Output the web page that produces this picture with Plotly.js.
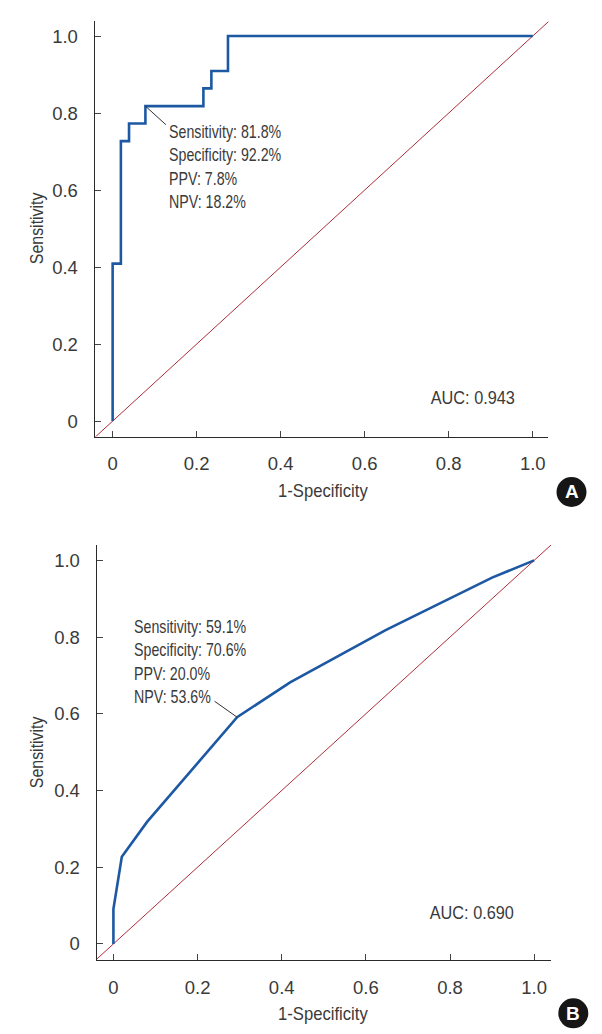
<!DOCTYPE html>
<html>
<head>
<meta charset="utf-8">
<script src="https://cdn.plot.ly/plotly-3.0.1.min.js"></script>
<style>html,body{margin:0;padding:0;background:#fff;}#chart{width:602px;height:1034px;}</style>
</head>
<body>
<div id="chart"></div>
<script>
// ---- Data ----
// Panel A ROC (step curve)
const rocA_fpr = [0, 0, 0.0196, 0.0196, 0.039, 0.039, 0.078, 0.078, 0.216, 0.216, 0.235, 0.235, 0.2745, 0.2745, 1.0];
const rocA_tpr = [0, 0.409, 0.409, 0.727, 0.727, 0.773, 0.773, 0.818, 0.818, 0.864, 0.864, 0.909, 0.909, 1.0, 1.0];
// Panel B ROC
const rocB_fpr = [0, 0, 0.02, 0.08, 0.294, 0.42, 0.647, 0.90, 1.0];
const rocB_tpr = [0, 0.091, 0.227, 0.318, 0.591, 0.682, 0.818, 0.955, 1.0];
// Reference diagonal
const diag = [-0.1, 1.1];
// Cut-off points
const cutA = {x: 0.078, y: 0.818};
const cutB = {x: 0.294, y: 0.591};
const statsA = ['Sensitivity: 81.8%', 'Specificity: 92.2%', 'PPV: 7.8%', 'NPV: 18.2%'];
const statsB = ['Sensitivity: 59.1%', 'Specificity: 70.6%', 'PPV: 20.0%', 'NPV: 53.6%'];
const aucA = 'AUC: 0.943';
const aucB = 'AUC: 0.690';
const tickVals = [0, 0.2, 0.4, 0.6, 0.8, 1.0];
const tickText = ['0', '0.2', '0.4', '0.6', '0.8', '1.0'];
const xTitle = '1-Specificity';
const yTitle = 'Sensitivity';
const panelLabels = ['A', 'B'];

// ---- Styles ----
const W = 602, H = 1034;
const BLUE = '#1d58a3';
const RED = '#ad2e38';
const TXT = '#3a3a3a';
const SANS = '"Liberation Sans", Arial, sans-serif';

const traces = [
  {x: diag, y: diag, xaxis: 'x', yaxis: 'y', mode: 'lines', line: {color: RED, width: 1}, hoverinfo: 'skip'},
  {x: rocA_fpr, y: rocA_tpr, xaxis: 'x', yaxis: 'y', mode: 'lines', line: {color: BLUE, width: 2.6}},
  {x: diag, y: diag, xaxis: 'x2', yaxis: 'y2', mode: 'lines', line: {color: RED, width: 1}, hoverinfo: 'skip'},
  {x: rocB_fpr, y: rocB_tpr, xaxis: 'x2', yaxis: 'y2', mode: 'lines', line: {color: BLUE, width: 2.6}}
];

function axis(extra) {
  return Object.assign({
    showgrid: false, zeroline: false, showline: true, linecolor: '#2a2a2a', linewidth: 1.4,
    ticks: 'inside', ticklen: 6, tickwidth: 1, tickcolor: '#444',
    tickvals: tickVals, ticktext: tickText,
    tickfont: {family: SANS, size: 18.5, color: TXT},
    fixedrange: true
  }, extra);
}

const px = v => v / W, py = v => 1 - v / H;

// annotations, with a horizontal condensing factor for each (to imitate the narrow typeface)
const annSpecs = [
  [{xref: 'x', yref: 'y', x: cutA.x, y: cutA.y, ax: 22, ay: 20, text: '', showarrow: true, arrowhead: 0, arrowwidth: 1, arrowcolor: '#333'}, 1, 'center'],
  [{xref: 'x', yref: 'y', x: cutA.x, y: cutA.y, xshift: 22, yshift: -14, xanchor: 'left', yanchor: 'top', align: 'left',
    text: statsA.join('<br>'), showarrow: false, font: {family: SANS, size: 18, color: TXT}}, 0.79, 'left'],
  [{xref: 'x2', yref: 'y2', x: cutB.x, y: cutB.y, ax: -24, ay: -17, text: '', showarrow: true, arrowhead: 0, arrowwidth: 1, arrowcolor: '#333'}, 1, 'center'],
  [{xref: 'x2', yref: 'y2', x: cutB.x, y: cutB.y, xshift: -105, yshift: 102, xanchor: 'left', yanchor: 'top', align: 'left',
    text: statsB.join('<br>'), showarrow: false, font: {family: SANS, size: 18, color: TXT}}, 0.79, 'left'],
  [{xref: 'x', yref: 'y', x: 0.857, y: 0.06, text: aucA, showarrow: false, xanchor: 'center', yanchor: 'middle', font: {family: SANS, size: 18.5, color: TXT}}, 0.88, 'center'],
  [{xref: 'x2', yref: 'y2', x: 0.852, y: 0.081, text: aucB, showarrow: false, xanchor: 'center', yanchor: 'middle', font: {family: SANS, size: 18.5, color: TXT}}, 0.88, 'center'],
  [{xref: 'paper', yref: 'paper', x: px(36), y: py(228), text: yTitle, textangle: -90, showarrow: false, xanchor: 'center', yanchor: 'middle', font: {family: SANS, size: 18.5, color: TXT}}, 0.86, 'center'],
  [{xref: 'paper', yref: 'paper', x: px(36), y: py(752), text: yTitle, textangle: -90, showarrow: false, xanchor: 'center', yanchor: 'middle', font: {family: SANS, size: 18.5, color: TXT}}, 0.86, 'center'],
  [{xref: 'paper', yref: 'paper', x: px(323), y: py(490), text: xTitle, showarrow: false, xanchor: 'center', yanchor: 'middle', font: {family: SANS, size: 18.5, color: TXT}}, 0.9, 'center'],
  [{xref: 'paper', yref: 'paper', x: px(323), y: py(1013), text: xTitle, showarrow: false, xanchor: 'center', yanchor: 'middle', font: {family: SANS, size: 18.5, color: TXT}}, 0.9, 'center'],
  [{xref: 'paper', yref: 'paper', x: px(571.5), y: py(492), text: '<b>' + panelLabels[0] + '</b>', showarrow: false, xanchor: 'center', yanchor: 'middle', font: {family: SANS, size: 19, color: '#fff'}}, 1, 'center'],
  [{xref: 'paper', yref: 'paper', x: px(573.3), y: py(1013.3), text: '<b>' + panelLabels[1] + '</b>', showarrow: false, xanchor: 'center', yanchor: 'middle', font: {family: SANS, size: 19, color: '#fff'}}, 1, 'center']
];
const annotations = annSpecs.map(s => s[0]);

const shapes = [
  {type: 'circle', xref: 'paper', yref: 'paper', xsizemode: 'pixel', ysizemode: 'pixel', xanchor: px(571.5), yanchor: py(492), x0: -15, x1: 15, y0: -15, y1: 15, fillcolor: '#161616', line: {width: 0}},
  {type: 'circle', xref: 'paper', yref: 'paper', xsizemode: 'pixel', ysizemode: 'pixel', xanchor: px(573.3), yanchor: py(1013.3), x0: -15, x1: 15, y0: -15, y1: 15, fillcolor: '#161616', line: {width: 0}}
];

const layout = {
  width: W, height: H,
  margin: {l: 0, r: 0, t: 0, b: 0},
  paper_bgcolor: '#fff', plot_bgcolor: '#fff',
  showlegend: false,
  xaxis: axis({domain: [95 / W, 548.3 / W], range: [-0.042, 1.037], anchor: 'y', ticklabelstandoff: 10}),
  yaxis: axis({domain: [1 - 436.5 / H, 1 - 21 / H], range: [-0.04, 1.039], anchor: 'x', ticklabelstandoff: 12}),
  xaxis2: axis({domain: [97 / W, 551 / W], range: [-0.039, 1.04], anchor: 'y2', ticklabelstandoff: 10}),
  yaxis2: axis({domain: [1 - 960 / H, 1 - 545 / H], range: [-0.042, 1.04], anchor: 'x2', ticklabelstandoff: 12}),
  annotations: annotations,
  shapes: shapes
};

Plotly.newPlot('chart', traces, layout, {displayModeBar: false, staticPlot: true}).then(gd => {
  gd.querySelectorAll('.annotation').forEach(g => {
    const i = +g.getAttribute('data-index');
    const spec = annSpecs[i];
    if (!spec || spec[1] === 1) return;
    const t = g.querySelector('text.annotation-text');
    if (!t) return;
    t.style.transformBox = 'fill-box';
    t.style.transformOrigin = spec[2] === 'left' ? 'left center' : 'center center';
    t.style.transform = 'scaleX(' + spec[1] + ')';
  });
});
</script>
</body>
</html>
